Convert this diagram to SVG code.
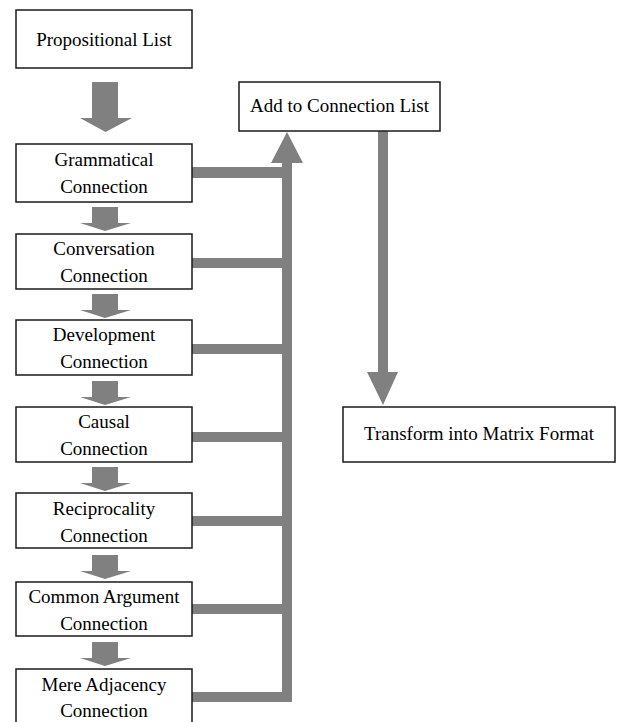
<svg xmlns="http://www.w3.org/2000/svg" width="618" height="722" viewBox="0 0 618 722">
<style>
.box{fill:#fff;stroke:#1a1a1a;stroke-width:1.5}
.t{font-family:"Liberation Serif","Times New Roman",serif;font-size:19px;fill:#000;text-anchor:middle}
.g{fill:#808080;stroke:none}
</style>
<rect width="618" height="722" fill="#fff"/>
<g id="connectors">
<!-- big arrow -->
<polygon class="g" points="92,82 118,82 118,118 132,118 105.5,132 80,118 92,118"/>
<!-- small arrows between boxes -->
<g id="small-arrows">
<polygon class="g" points="92,207 118,207 118,223 131,223 105,231 80,223 92,223"/>
<polygon class="g" points="92,294 118,294 118,310 131,310 105,318 80,310 92,310"/>
<polygon class="g" points="92,381 118,381 118,397 131,397 105,405 80,397 92,397"/>
<polygon class="g" points="92,467 118,467 118,483 131,483 105,491 80,483 92,483"/>
<polygon class="g" points="92,555 118,555 118,571 131,571 105,579 80,571 92,571"/>
<polygon class="g" points="92,642 118,642 118,658 131,658 105,666 80,658 92,658"/>
</g>
<!-- collector bus -->
<rect class="g" x="192" y="167" width="100" height="11"/>
<rect class="g" x="192" y="258" width="100" height="10"/>
<rect class="g" x="192" y="344" width="100" height="10"/>
<rect class="g" x="192" y="432" width="100" height="10"/>
<rect class="g" x="192" y="516" width="100" height="10"/>
<rect class="g" x="192" y="604" width="100" height="10"/>
<rect class="g" x="192" y="692" width="100" height="10"/>
<polygon class="g" points="282,702 282,163 271,163 287,132 303,163 292,163 292,702"/>
<!-- down arrow to transform -->
<polygon class="g" points="378,131 388,131 388,372 398,372 383,405 367,372 378,372"/>
</g>
<g id="propositional-list">
<rect class="box" x="16" y="10" width="176" height="58"/>
<text class="t" x="104" y="46">Propositional List</text>
</g>
<g id="grammatical">
<rect class="box" x="16" y="144" width="176" height="58"/>
<text class="t" x="104" y="166">Grammatical</text>
<text class="t" x="104" y="193">Connection</text>
</g>
<g id="conversation">
<rect class="box" x="16" y="234" width="176" height="55"/>
<text class="t" x="104" y="255">Conversation</text>
<text class="t" x="104" y="282">Connection</text>
</g>
<g id="development">
<rect class="box" x="16" y="320" width="176" height="55"/>
<text class="t" x="104" y="341">Development</text>
<text class="t" x="104" y="368">Connection</text>
</g>
<g id="causal">
<rect class="box" x="16" y="407" width="176" height="55"/>
<text class="t" x="104" y="428">Causal</text>
<text class="t" x="104" y="455">Connection</text>
</g>
<g id="reciprocality">
<rect class="box" x="16" y="493" width="176" height="55"/>
<text class="t" x="104" y="515">Reciprocality</text>
<text class="t" x="104" y="542">Connection</text>
</g>
<g id="common-argument">
<rect class="box" x="16" y="582" width="176" height="54"/>
<text class="t" x="104" y="603">Common Argument</text>
<text class="t" x="104" y="630">Connection</text>
</g>
<g id="mere-adjacency">
<rect class="box" x="16" y="669" width="176" height="60"/>
<text class="t" x="104" y="691">Mere Adjacency</text>
<text class="t" x="104" y="717">Connection</text>
</g>
<g id="add-to-connection-list">
<rect class="box" x="239" y="82" width="201" height="49"/>
<text class="t" x="339.5" y="112">Add to Connection List</text>
</g>
<g id="transform">
<rect class="box" x="343" y="407" width="272" height="55"/>
<text class="t" x="479" y="440">Transform into Matrix Format</text>
</g>
</svg>
